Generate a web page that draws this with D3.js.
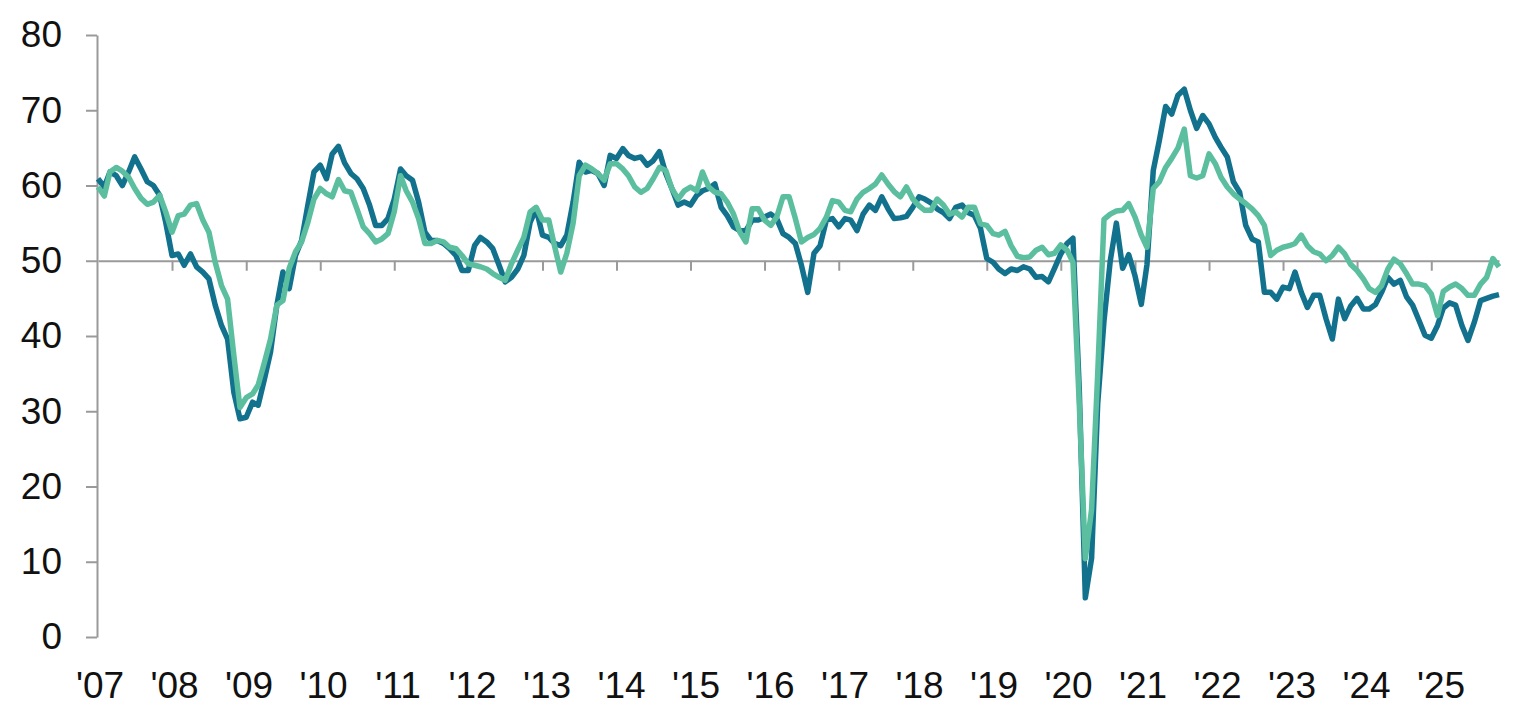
<!DOCTYPE html>
<html>
<head>
<meta charset="utf-8">
<script src="https://cdn.jsdelivr.net/npm/d3@7"></script>
<style>
  html, body { margin: 0; padding: 0; background: #fff; }
  svg text { font-family: "Liberation Sans", Arial, sans-serif; }
</style>
</head>
<body>
<svg width="1531" height="724"></svg>
<script>
// monthly readings, Jan 2007 - Dec 2025
const firstMonth = new Date(2007, 0, 1);

const darkSeries = [
  60.9, 59.8, 61.8, 61.3, 60.0, 61.8, 63.8, 62.2, 60.5, 60.0, 58.7, 55.1, // 2007
  50.7, 50.9, 49.4, 50.9, 49.2, 48.5, 47.6, 44.1, 41.4, 39.6, 32.5, 29.0, // 2008
  29.2, 31.2, 30.8, 34.3, 37.9, 44.1, 48.5, 46.3, 50.7, 52.7, 57.4, 61.8, // 2009
  62.7, 60.9, 64.2, 65.2, 63.0, 61.6, 60.9, 59.6, 57.4, 54.7, 54.7, 55.6, // 2010
  58.2, 62.2, 61.3, 60.7, 57.8, 53.8, 52.7, 52.7, 52.3, 51.6, 50.7, 48.7, // 2011
  48.7, 52.0, 53.1, 52.5, 51.6, 49.4, 47.2, 47.8, 48.9, 50.7, 55.1, 56.9, // 2012
  53.4, 53.1, 52.3, 52.0, 53.4, 57.8, 63.1, 61.8, 62.0, 61.6, 60.0, 64.0, // 2013
  63.6, 64.9, 64.0, 63.6, 63.8, 62.7, 63.3, 64.5, 61.6, 59.6, 57.4, 57.8, // 2014
  57.4, 58.7, 59.3, 59.6, 60.2, 57.1, 56.0, 54.5, 54.0, 54.0, 55.4, 55.4, // 2015
  55.8, 56.2, 55.6, 53.6, 53.1, 52.3, 49.4, 45.8, 51.0, 52.0, 55.4, 55.6, // 2016
  54.5, 55.6, 55.4, 54.0, 56.2, 57.4, 56.7, 58.5, 56.9, 55.6, 55.7, 55.9, // 2017
  57.1, 58.5, 58.2, 57.7, 56.9, 56.4, 55.6, 57.1, 57.4, 56.4, 56.0, 54.3, // 2018
  50.3, 49.8, 48.9, 48.3, 48.9, 48.7, 49.2, 48.9, 47.8, 47.9, 47.2, 49.0, // 2019
  50.9, 52.3, 53.0, 33.0,  5.2, 10.5, 31.0, 42.0, 50.0, 55.0, 49.0, 50.8, // 2020
  48.0, 44.2, 49.5, 62.0, 66.0, 70.5, 69.5, 72.0, 72.8, 70.0, 67.6, 69.3, // 2021
  68.2, 66.4, 65.1, 63.8, 60.5, 59.1, 54.7, 52.9, 52.5, 45.8, 45.8, 44.9, // 2022
  46.5, 46.3, 48.5, 45.8, 43.8, 45.4, 45.4, 42.3, 39.6, 44.9, 42.3, 44.0, // 2023
  45.0, 43.6, 43.6, 44.2, 45.8, 47.8, 46.9, 47.4, 45.2, 44.1, 42.1, 40.1, // 2024
  39.7, 41.4, 43.7, 44.4, 44.1, 41.4, 39.4, 41.8, 44.7, 45.0, 45.3, 45.5  // 2025
];

const lightSeries = [
  59.8, 58.6, 61.8, 62.4, 61.9, 61.1, 59.6, 58.3, 57.5, 57.8, 58.7, 56.5, // 2007
  53.8, 56.0, 56.2, 57.4, 57.6, 55.4, 53.8, 49.8, 46.7, 44.9, 37.4, 30.5, // 2008
  31.8, 32.3, 33.5, 36.5, 39.6, 44.1, 44.7, 49.0, 51.2, 52.5, 55.1, 58.2, // 2009
  59.6, 58.9, 58.5, 60.8, 59.3, 59.1, 56.9, 54.5, 53.6, 52.5, 52.9, 53.6, // 2010
  56.5, 61.3, 59.3, 57.8, 55.6, 52.3, 52.3, 52.7, 52.5, 51.8, 51.6, 50.7, // 2011
  49.6, 49.4, 49.2, 48.9, 48.3, 47.8, 47.4, 49.6, 51.4, 53.1, 56.5, 57.1, // 2012
  55.4, 55.4, 52.0, 48.5, 51.0, 55.0, 61.3, 62.7, 62.2, 61.6, 60.7, 62.9, // 2013
  62.9, 62.2, 61.3, 59.8, 59.1, 59.6, 60.9, 62.4, 62.0, 59.6, 58.2, 59.3, // 2014
  59.8, 59.3, 61.8, 59.8, 59.1, 58.9, 57.8, 56.2, 53.8, 52.5, 56.9, 56.9, // 2015
  55.4, 54.7, 55.8, 58.5, 58.5, 55.6, 52.5, 53.1, 53.5, 54.3, 55.8, 58.0, // 2016
  57.8, 56.7, 56.5, 58.2, 59.1, 59.6, 60.2, 61.4, 60.2, 59.2, 58.5, 59.8, // 2017
  58.2, 57.3, 56.7, 56.7, 58.2, 57.4, 56.2, 56.5, 55.8, 57.1, 57.1, 54.9, // 2018
  54.7, 53.6, 53.4, 53.9, 52.0, 50.6, 50.4, 50.5, 51.4, 51.8, 50.8, 51.0, // 2019
  52.1, 51.4, 49.8, 31.0, 10.4, 17.0, 35.0, 55.5, 56.2, 56.6, 56.7, 57.6, // 2020
  55.8, 53.4, 51.8, 59.6, 60.5, 62.4, 63.6, 65.0, 67.5, 61.3, 61.0, 61.3, // 2021
  64.2, 62.9, 61.1, 59.8, 58.9, 58.2, 57.6, 56.9, 56.0, 54.7, 50.7, 51.4, // 2022
  51.8, 52.0, 52.3, 53.4, 52.0, 51.2, 50.9, 50.0, 50.7, 51.8, 50.9, 49.5, // 2023
  48.7, 47.6, 46.3, 45.8, 46.7, 48.9, 50.2, 49.6, 48.3, 46.9, 46.9, 46.7, // 2024
  45.6, 42.7, 45.9, 46.5, 46.9, 46.3, 45.4, 45.4, 46.9, 47.8, 50.3, 49.2  // 2025
];

const yearLabels = ["'07", "'08", "'09", "'10", "'11", "'12", "'13", "'14", "'15", "'16",
                    "'17", "'18", "'19", "'20", "'21", "'22", "'23", "'24", "'25"];
const yTicks = [0, 10, 20, 30, 40, 50, 60, 70, 80];

const svg = d3.select("svg");
const axisColor = "#9a9a9a";

const months = darkSeries.map((d, i) => d3.timeMonth.offset(firstMonth, i));

const x = d3.scaleTime()
  .domain([months[0], months[months.length - 1]])
  .range([98, 1499]);

const y = d3.scaleLinear()
  .domain([0, 80])
  .range([637, 35]);

// y axis on the left
const yAxis = svg.append("g")
  .attr("transform", "translate(97,0)")
  .call(d3.axisLeft(y).tickValues(yTicks).tickSize(11).tickSizeOuter(0).tickPadding(24));
yAxis.selectAll("path, line").attr("stroke", axisColor).attr("stroke-width", 2);
yAxis.selectAll("text")
  .attr("font-size", 37)
  .attr("fill", "#111")
  .attr("font-family", "'Liberation Sans', Arial, sans-serif");

// x axis crosses at 50, ticks at each new year
const yearStarts = d3.timeYear.range(new Date(2008, 0, 1), new Date(2026, 0, 1));
const xAxis = svg.append("g")
  .attr("transform", `translate(0,${y(50)})`)
  .call(d3.axisBottom(x).tickValues(yearStarts).tickSize(10).tickSizeOuter(0).tickFormat(""));
xAxis.selectAll("path, line").attr("stroke", axisColor).attr("stroke-width", 2);

// year labels along the bottom
const labelX = d3.scalePoint().domain(yearLabels).range([100, 1441]);
svg.append("g")
  .selectAll("text")
  .data(yearLabels)
  .enter()
  .append("text")
  .attr("x", d => labelX(d))
  .attr("y", 698)
  .attr("text-anchor", "middle")
  .attr("font-size", 37)
  .attr("fill", "#111")
  .text(d => d);

const line = d3.line()
  .x((d, i) => x(months[i]))
  .y(d => y(d));

svg.append("path")
  .datum(darkSeries)
  .attr("fill", "none")
  .attr("stroke", "#12718d")
  .attr("stroke-width", 5.5)
  .attr("stroke-linejoin", "round")
  .attr("d", line);

svg.append("path")
  .datum(lightSeries)
  .attr("fill", "none")
  .attr("stroke", "#5bbf9f")
  .attr("stroke-width", 5.5)
  .attr("stroke-linejoin", "round")
  .attr("d", line);
</script>
</body>
</html>
